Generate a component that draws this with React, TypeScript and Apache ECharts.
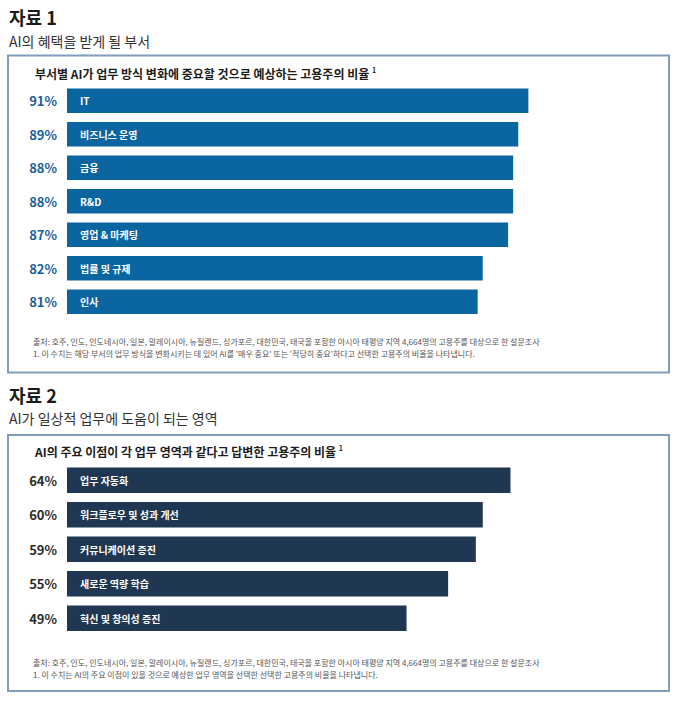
import React, { useEffect, useRef } from "react";
import * as echarts from "echarts";

const deptNames = ["IT", "비즈니스 운영", "금융", "R&D", "영업 & 마케팅", "법률 및 규제", "인사"];
const deptValues = [91, 89, 88, 88, 87, 82, 81];

const areaNames = ["업무 자동화", "워크플로우 및 성과 개선", "커뮤니케이션 증진", "새로운 역량 학습", "혁신 및 창의성 증진"];
const areaValues = [64, 60, 59, 55, 49];

const FONT = "'Noto Sans CJK KR', 'Noto Sans', sans-serif";
const COLOR1 = "#0a65a0";
const COLOR2 = "#1f3752";
const BORDER = "#7f9dbc";

const source = "출처: 호주, 인도, 인도네시아, 일본, 말레이시아, 뉴질랜드, 싱가포르, 대한민국, 태국을 포함한 아시아 태평양 지역 4,664명의 고용주를 대상으로 한 설문조사";
const note1 = "1. 이 수치는 해당 부서의 업무 방식을 변화시키는 데 있어 AI를 '매우 중요' 또는 '적당히 중요'하다고 선택한 고용주의 비율을 나타냅니다.";
const note2 = "1. 이 수치는 AI의 주요 이점이 있을 것으로 예상한 업무 영역을 선택한 선택한 고용주의 비율을 나타냅니다.";

function txt(x: number, y: number, text: string, fontSize: number, fontWeight: any, fill: string, rich?: any) {
  return {
    type: "text",
    x,
    y,
    style: { text, fontSize, fontWeight, fill, fontFamily: FONT, verticalAlign: "middle", align: "left", rich },
  };
}

export default function App() {
  const ref = useRef<HTMLDivElement>(null);
  useEffect(() => {
    if (!ref.current) return;
    const chart = echarts.init(ref.current, null, { renderer: "svg" });
    const titleRich = {
      t: { fontSize: 12, fontWeight: "bold", fill: "#1c1c1c", fontFamily: FONT },
      s: { fontSize: 7, fontWeight: "bold", fill: "#1c1c1c", fontFamily: FONT, verticalAlign: "top", padding: [0, 0, 6, 0] },
    };
    chart.setOption({
      animation: false,
      backgroundColor: "#ffffff",
      grid: [
        { left: 67, top: 84, width: 507, height: 234.5 },
        { left: 67, top: 463, width: 540.5, height: 172.5 },
      ],
      xAxis: [
        { gridIndex: 0, type: "value", min: 0, max: 100, show: false },
        { gridIndex: 1, type: "value", min: 0, max: 78, show: false },
      ],
      yAxis: [
        {
          gridIndex: 0,
          type: "category",
          data: deptNames,
          inverse: true,
          axisLine: { show: false },
          axisTick: { show: false },
          axisLabel: {
            margin: 10,
            fontSize: 13,
            fontWeight: "bold",
            color: "#18609a",
            fontFamily: FONT,
            formatter: (_v: string, i: number) => `${deptValues[i]}%`,
          },
        },
        {
          gridIndex: 1,
          type: "category",
          data: areaNames,
          inverse: true,
          axisLine: { show: false },
          axisTick: { show: false },
          axisLabel: {
            margin: 10,
            fontSize: 13,
            fontWeight: "bold",
            color: "#2b2b2b",
            fontFamily: FONT,
            formatter: (_v: string, i: number) => `${areaValues[i]}%`,
          },
        },
      ],
      series: [
        {
          type: "bar",
          xAxisIndex: 0,
          yAxisIndex: 0,
          data: deptValues,
          barWidth: 24.5,
          itemStyle: { color: COLOR1 },
          label: {
            show: true,
            position: "insideLeft",
            distance: 13,
            formatter: (p: any) => p.name,
            color: "#ffffff",
            fontSize: 10,
            fontWeight: "bold",
            fontFamily: FONT,
          },
        },
        {
          type: "bar",
          xAxisIndex: 1,
          yAxisIndex: 1,
          data: areaValues,
          barWidth: 25.5,
          itemStyle: { color: COLOR2 },
          label: {
            show: true,
            position: "insideLeft",
            distance: 13,
            formatter: (p: any) => p.name,
            color: "#ffffff",
            fontSize: 10,
            fontWeight: "bold",
            fontFamily: FONT,
          },
        },
      ],
      graphic: [
        { type: "rect", shape: { x: 8, y: 55.5, width: 661, height: 317 }, style: { fill: "none", stroke: BORDER, lineWidth: 2 }, z: -1 },
        { type: "rect", shape: { x: 8, y: 435, width: 661, height: 256 }, style: { fill: "none", stroke: BORDER, lineWidth: 2 }, z: -1 },
        txt(9, 17, "자료 1", 18, "bold", "#1a1a1a"),
        txt(9, 41, "AI의 혜택을 받게 될 부서", 14, "normal", "#333333"),
        txt(35, 73, "{t|부서별 AI가 업무 방식 변화에 중요할 것으로 예상하는 고용주의 비율} {s|1}", 12, "bold", "#1c1c1c", titleRich),
        txt(33, 341, source, 8, "normal", "#555555"),
        txt(33, 353, note1, 8, "normal", "#555555"),
        txt(9, 395, "자료 2", 18, "bold", "#1a1a1a"),
        txt(9, 418, "AI가 일상적 업무에 도움이 되는 영역", 14, "normal", "#333333"),
        txt(35, 451, "{t|AI의 주요 이점이 각 업무 영역과 같다고 답변한 고용주의 비율} {s|1}", 12, "bold", "#1c1c1c", titleRich),
        txt(33, 662, source, 8, "normal", "#555555"),
        txt(33, 674, note2, 8, "normal", "#555555"),
      ],
    });
    return () => chart.dispose();
  }, []);
  return <div ref={ref} style={{ position: "fixed", left: 0, top: 0, width: 679, height: 701 }} />;
}
